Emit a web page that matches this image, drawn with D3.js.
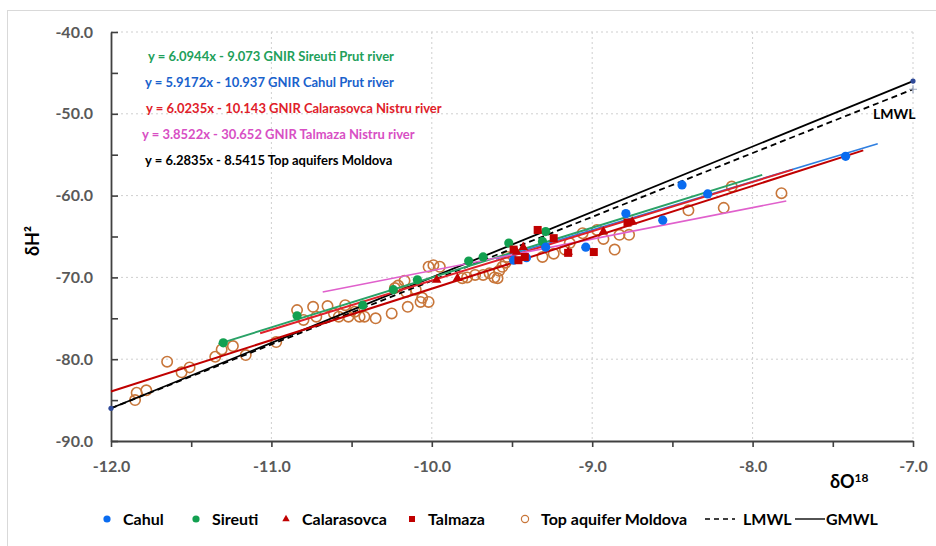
<!DOCTYPE html>
<html>
<head>
<meta charset="utf-8">
<script src="https://cdn.jsdelivr.net/npm/d3@7"></script>
<style>
  html, body { margin: 0; padding: 0; background: #fff; }
  svg { display: block; }
  text { font-family: Lato, "Open Sans", sans-serif; }
</style>
</head>
<body>
<svg id="chart" width="936" height="546"></svg>
<script>
// δ18O / δ2H samples per site: [δ18O, δ2H]
const cahul = [
  [-9.49, -67.9], [-9.41, -67.6], [-9.29, -66.3], [-9.04, -66.3], [-8.79, -62.2],
  [-8.56, -63.0], [-8.44, -58.7], [-8.28, -59.8], [-7.42, -55.2]
];
const sireuti = [
  [-11.30, -78.0], [-10.84, -74.7], [-10.43, -73.4], [-10.24, -71.5], [-10.09, -70.3],
  [-9.77, -68.0], [-9.68, -67.5], [-9.52, -65.8], [-9.31, -65.6], [-9.29, -64.4]
];
const calarasovca = [
  [-9.97, -70.3], [-9.84, -70.1], [-9.47, -66.9], [-9.43, -66.3], [-9.15, -66.9],
  [-8.93, -64.4], [-8.75, -63.2]
];
const talmaza = [
  [-9.49, -66.6], [-9.46, -67.9], [-9.42, -67.5], [-9.34, -64.2], [-9.24, -65.2],
  [-9.15, -67.0], [-8.99, -66.9], [-8.78, -63.3]
];
const topAquifer = [
  [-11.85, -85.0], [-11.84, -84.1], [-11.78, -83.8], [-11.65, -80.3], [-11.56, -81.6],
  [-11.51, -81.0], [-11.35, -79.7], [-11.31, -78.8], [-11.24, -78.4], [-11.16, -79.5],
  [-10.97, -77.9], [-10.84, -74.0], [-10.80, -75.2], [-10.74, -73.6], [-10.72, -74.8],
  [-10.65, -73.5], [-10.61, -74.4], [-10.58, -74.8], [-10.54, -73.4], [-10.52, -74.8],
  [-10.48, -74.2], [-10.45, -74.8], [-10.42, -74.8], [-10.35, -75.0], [-10.25, -74.4],
  [-10.23, -71.3], [-10.21, -71.0], [-10.17, -70.4], [-10.16, -71.8], [-10.15, -73.6],
  [-10.10, -71.5], [-10.07, -73.0], [-10.06, -72.5], [-10.02, -73.0], [-10.02, -68.7],
  [-9.99, -68.5], [-9.95, -68.7], [-9.81, -70.1], [-9.78, -70.0], [-9.73, -69.7],
  [-9.68, -69.7], [-9.64, -69.5], [-9.61, -70.0], [-9.59, -70.1], [-9.58, -69.2],
  [-9.56, -68.7], [-9.54, -68.2], [-9.53, -67.5], [-9.31, -67.5], [-9.24, -67.1],
  [-9.17, -66.6], [-9.14, -65.8], [-9.06, -64.6], [-8.97, -64.2], [-8.93, -65.3],
  [-8.86, -66.6], [-8.83, -64.8], [-8.77, -64.8], [-8.40, -61.8], [-8.18, -61.5],
  [-8.13, -58.9], [-7.82, -59.7]
];

// Regression lines: slope, intercept, δ18O range
const trendNames = ["Sireuti", "Cahul", "Calarasovca", "Talmaza", "Top aquifers"];
const trendSlopes = [6.0944, 5.9172, 6.0235, 3.8522, 6.2835];
const trendIntercepts = [-9.073, -10.937, -10.143, -30.652, -8.5415];
const trendFrom = [-11.33, -9.60, -11.07, -10.68, -12.0];
const trendTo = [-7.94, -7.22, -7.75, -7.79, -7.31];
const trendColors = ["#2aa267", "#2f7fe0", "#e0212b", "#e060cc", "#c00000"];

const equationLabels = [
  "y = 6.0944x - 9.073 GNIR Sireuti Prut river",
  "y = 5.9172x - 10.937 GNIR Cahul Prut river",
  "y = 6.0235x - 10.143 GNIR Calarasovca Nistru river",
  "y = 3.8522x - 30.652 GNIR Talmaza Nistru river",
  "y = 6.2835x - 8.5415 Top aquifers Moldova"
];
const equationColors = ["#22a05a", "#1a62cc", "#e0202a", "#d84fc4", "#000000"];

// Meteoric water lines
const gmwl = { slope: 8, intercept: 10, from: -12, to: -7 };
const lmwl = { slope: 7.8, intercept: 7.6, from: -12, to: -7 };

// Axis ticks
const xTicks = d3.range(-12, -6.99, 0.5);
const yTicks = d3.range(-90, -39.99, 5);
const xGrid = [-11, -10, -9, -8, -7];
const yGrid = [-80, -70, -60, -50, -40];

const legendItems = [
  { label: "Cahul", kind: "dot", color: "#0a6cf0" },
  { label: "Sireuti", kind: "dot", color: "#12a050" },
  { label: "Calarasovca", kind: "tri", color: "#c00000" },
  { label: "Talmaza", kind: "sq", color: "#c00000" },
  { label: "Top aquifer Moldova", kind: "ring", color: "#c8763a" },
  { label: "LMWL", kind: "dash", color: "#000" },
  { label: "GMWL", kind: "solid", color: "#404040" }
];

const svg = d3.select("#chart");
const x = d3.scaleLinear().domain([-12, -7]).range([111, 913]);
const y = d3.scaleLinear().domain([-90, -40]).range([441, 32]);

// outer frame
svg.append("rect").attr("x", 7.5).attr("y", 10.5).attr("width", 940).attr("height", 545)
  .attr("fill", "none").attr("stroke", "#d9d9d9");

// grid
const grid = svg.append("g").attr("stroke", "#cfcfcf").attr("stroke-dasharray", "2,3").attr("stroke-width", 1);
xGrid.forEach(v => grid.append("line").attr("x1", x(v)).attr("x2", x(v)).attr("y1", y(-40)).attr("y2", y(-90)));
yGrid.forEach(v => grid.append("line").attr("x1", x(-12)).attr("x2", x(-7)).attr("y1", y(v)).attr("y2", y(v)));

// axes
const fmt = d => Number.isInteger(d) ? d.toFixed(1) : "";
const xAxis = svg.append("g").attr("transform", `translate(0,${y(-90)})`)
  .call(d3.axisBottom(x).tickValues(xTicks).tickFormat(fmt).tickSizeInner(6).tickSizeOuter(0).tickPadding(14));
const yAxis = svg.append("g").attr("transform", `translate(${x(-12)},0)`)
  .call(d3.axisLeft(y).tickValues(yTicks).tickFormat(d => d % 10 === 0 ? d.toFixed(1) : "").tickSizeInner(-7).tickSizeOuter(0).tickPadding(18));
[xAxis, yAxis].forEach(a => {
  a.select(".domain").attr("stroke", "#404040").attr("stroke-width", 1.8);
  a.selectAll(".tick line").attr("stroke", "#404040").attr("stroke-width", 1.6);
  a.selectAll(".tick text").attr("fill", "#595959").attr("font-size", 16).attr("font-weight", "bold")
    .attr("font-family", "Lato, sans-serif");
});

// axis titles
svg.append("text").attr("transform", `translate(39,241) rotate(-90)`).attr("text-anchor", "middle")
  .attr("font-size", 18).attr("font-weight", "bold").attr("fill", "#000")
  .text("δH²");
const xt = svg.append("text").attr("x", 830).attr("y", 488).attr("font-size", 18).attr("font-weight", "bold")
  .attr("font-family", "'Liberation Serif', serif").attr("fill", "#000");
xt.append("tspan").text("δO");
xt.append("tspan").attr("font-size", 12).attr("dy", -6).text("18");

const line = d3.line().x(d => x(d[0])).y(d => y(d[1]));
const seg = (m, b, a0, a1) => [[a0, m * a0 + b], [a1, m * a1 + b]];

// top aquifer samples (open circles)
svg.append("g").selectAll("circle").data(topAquifer).join("circle")
  .attr("cx", d => x(d[0])).attr("cy", d => y(d[1])).attr("r", 5.2)
  .attr("fill", "none").attr("stroke", "#c8763a").attr("stroke-width", 1.6);

// meteoric water lines
svg.append("path").attr("d", line(seg(lmwl.slope, lmwl.intercept, lmwl.from, lmwl.to)))
  .attr("fill", "none").attr("stroke", "#000").attr("stroke-width", 1.8).attr("stroke-dasharray", "6,4");
svg.append("path").attr("d", line(seg(gmwl.slope, gmwl.intercept, gmwl.from, gmwl.to)))
  .attr("fill", "none").attr("stroke", "#000").attr("stroke-width", 1.8);
[gmwl.from, gmwl.to].forEach(v => svg.append("circle").attr("cx", x(v)).attr("cy", y(gmwl.slope * v + gmwl.intercept))
  .attr("r", 2.6).attr("fill", "#2f4a9a"));
const lEnd = [lmwl.to, lmwl.slope * lmwl.to + lmwl.intercept];
svg.append("path").attr("d", `M${x(lEnd[0]) - 4},${y(lEnd[1])}h8M${x(lEnd[0])},${y(lEnd[1]) - 4}v8`)
  .attr("stroke", "#9aa6c0").attr("stroke-width", 1.2);
svg.append("text").attr("x", 873).attr("y", 119).attr("font-size", 14).attr("font-weight", "bold").text("LMWL");

// regression lines
trendNames.forEach((n, i) => {
  svg.append("path").attr("d", line(seg(trendSlopes[i], trendIntercepts[i], trendFrom[i], trendTo[i])))
    .attr("fill", "none").attr("stroke", trendColors[i]).attr("stroke-width", i === 1 || i === 3 ? 1.6 : 2);
});

// filled markers
svg.append("g").selectAll("circle").data(sireuti).join("circle")
  .attr("cx", d => x(d[0])).attr("cy", d => y(d[1])).attr("r", 4.6).attr("fill", "#12a050");
svg.append("g").selectAll("circle").data(cahul).join("circle")
  .attr("cx", d => x(d[0])).attr("cy", d => y(d[1])).attr("r", 4.6).attr("fill", "#0a6cf0");
const tri = d3.symbol().type(d3.symbolTriangle).size(40);
svg.append("g").selectAll("path").data(calarasovca).join("path")
  .attr("d", tri).attr("transform", d => `translate(${x(d[0])},${y(d[1])})`).attr("fill", "#c00000");
svg.append("g").selectAll("rect").data(talmaza).join("rect")
  .attr("x", d => x(d[0]) - 4).attr("y", d => y(d[1]) - 4).attr("width", 8).attr("height", 8).attr("fill", "#c00000");

// regression equations
const eqX = [148, 145, 146, 142, 145];
equationLabels.forEach((t, i) => {
  svg.append("text").attr("x", eqX[i]).attr("y", 61 + i * 26).attr("font-size", 13).attr("font-weight", "bold")
    .attr("fill", equationColors[i]).text(t);
});

// legend
const lg = svg.append("g").attr("transform", "translate(0,519)");
const legX = [107, 196, 286, 412, 525, 705, 795];
legendItems.forEach((it, i) => {
  const g = lg.append("g").attr("transform", `translate(${legX[i]},0)`);
  let tx = 16;
  if (it.kind === "dot") g.append("circle").attr("r", 3.6).attr("fill", it.color);
  if (it.kind === "tri") g.append("path").attr("d", d3.symbol().type(d3.symbolTriangle).size(24)).attr("fill", it.color);
  if (it.kind === "sq") g.append("rect").attr("x", -3).attr("y", -3).attr("width", 6).attr("height", 6).attr("fill", it.color);
  if (it.kind === "ring") g.append("circle").attr("r", 3.6).attr("fill", "none").attr("stroke", it.color).attr("stroke-width", 1.2);
  if (it.kind === "dash") { g.append("line").attr("x1", 0).attr("x2", 30).attr("stroke", it.color).attr("stroke-width", 1.6).attr("stroke-dasharray", "5,4"); tx = 38; }
  if (it.kind === "solid") { g.append("line").attr("x1", 0).attr("x2", 30).attr("stroke", it.color).attr("stroke-width", 1.8); tx = 31; }
  g.append("text").attr("x", tx).attr("y", 6).attr("font-size", 16).attr("font-weight", "bold").attr("fill", "#000").text(it.label);
});
</script>
</body>
</html>
